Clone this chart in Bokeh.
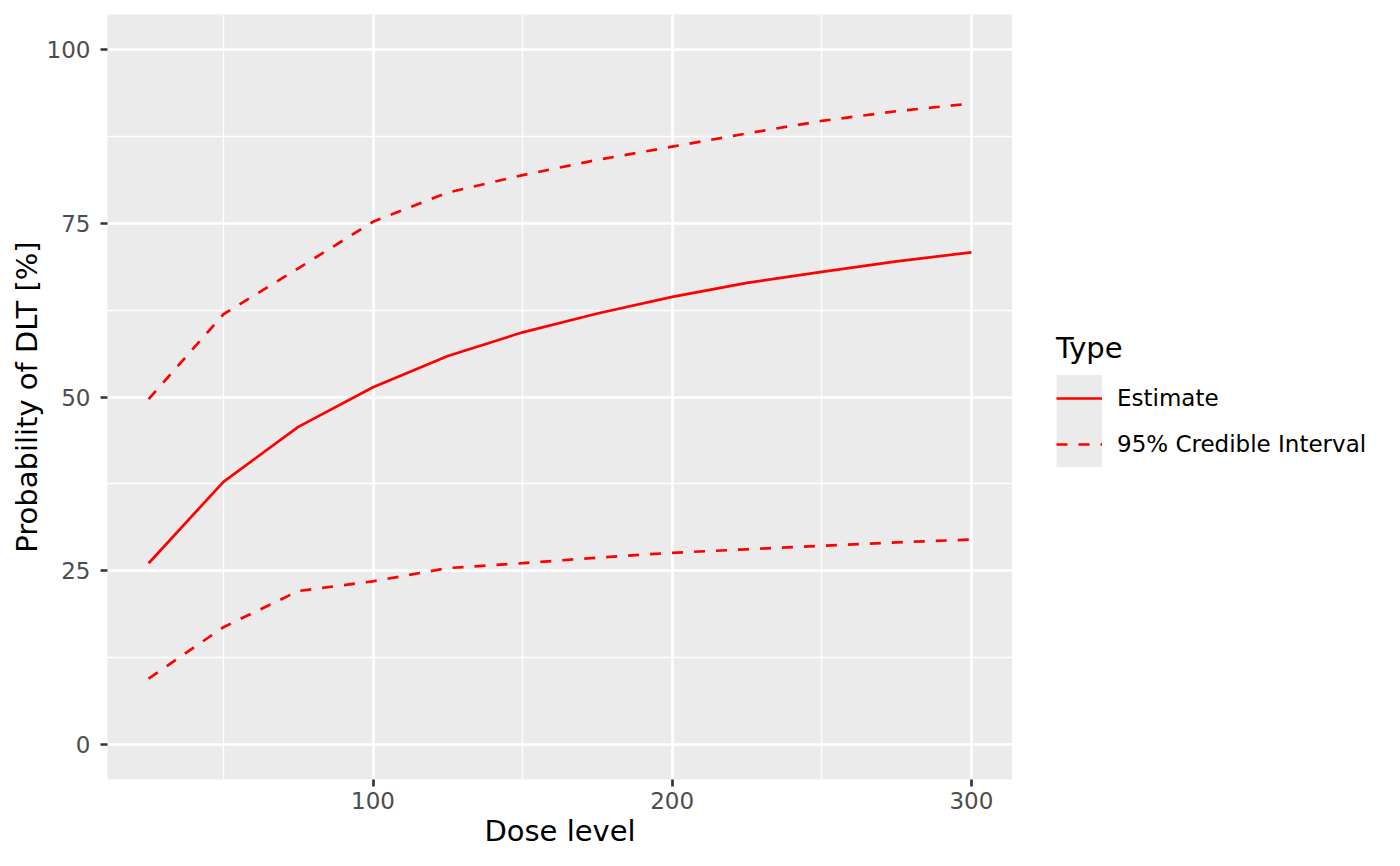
from bokeh.plotting import figure
from bokeh.models import Range1d, FixedTicker, Legend, LegendItem
from bokeh.layouts import row
from bokeh.embed import file_html
from bokeh.resources import INLINE

# ---- data ----
dose = [25, 50, 75, 100, 125, 150, 175, 200, 225, 250, 275, 300]
estimate = [26.1, 37.8, 45.7, 51.4, 55.9, 59.3, 62.0, 64.4, 66.4, 68.0, 69.5, 70.8]
ci_upper = [49.7, 61.9, 68.5, 75.2, 79.4, 81.9, 84.1, 86.0, 87.9, 89.7, 91.1, 92.2]
ci_lower = [9.5, 16.9, 22.1, 23.5, 25.4, 26.1, 26.9, 27.6, 28.1, 28.6, 29.1, 29.5]

x_ticks = [100, 200, 300]
x_minor = [50, 150, 250]
y_ticks = [0, 25, 50, 75, 100]
y_minor = [12.5, 37.5, 62.5, 87.5]

FONT = "DejaVu Sans"
RED = "#FF0000"
PANEL = "#EBEBEB"
TICK_FS = "23px"
TITLE_FS = "29px"
LW = 2.7
DASH = "11 11"

# ---------------- main panel ----------------
p = figure(width=1012, height=850,
           x_range=Range1d(11.25, 313.75), y_range=Range1d(-5, 105),
           output_backend="svg", toolbar_location=None,
           min_border_left=107, min_border_right=0,
           min_border_top=14, min_border_bottom=70,
           background_fill_color=PANEL, border_fill_color="white",
           outline_line_color=None)

p.xaxis.ticker = FixedTicker(ticks=x_ticks, minor_ticks=x_minor)
p.yaxis.ticker = FixedTicker(ticks=y_ticks, minor_ticks=y_minor)
for g in (p.xgrid, p.ygrid):
    g.grid_line_color = "white"
    g.grid_line_width = 2.7
    g.minor_grid_line_color = "white"
    g.minor_grid_line_width = 1.37

for ax in (p.xaxis, p.yaxis):
    ax.axis_line_color = None
    ax.major_tick_line_color = "#333333"
    ax.major_tick_line_width = 2.7
    ax.major_tick_out = 7
    ax.major_tick_in = 0
    ax.minor_tick_line_color = None
    ax.minor_tick_out = 0
    ax.minor_tick_in = 0
    ax.major_label_text_font = FONT
    ax.major_label_text_font_size = TICK_FS
    ax.major_label_text_color = "#4D4D4D"
    ax.axis_label_text_font = FONT
    ax.axis_label_text_font_size = TITLE_FS
    ax.axis_label_text_font_style = "normal"
    ax.axis_label_text_color = "black"

p.xaxis.axis_label = "Dose level"
p.yaxis.axis_label = "Probability of DLT [%]"
p.xaxis.major_label_standoff = 5
p.xaxis.axis_label_standoff = 2
p.yaxis.major_label_standoff = 10
p.yaxis.axis_label_standoff = 0

p.line(dose, estimate, line_color=RED, line_width=LW)
p.line(dose, ci_upper, line_color=RED, line_width=LW, line_dash=DASH)
p.line(dose, ci_lower, line_color=RED, line_width=LW, line_dash=DASH)

# ---------------- legend area ----------------
q = figure(width=372, height=850,
           x_range=Range1d(11.25, 313.75), y_range=Range1d(-5, 105),
           output_backend="svg", toolbar_location=None,
           min_border_left=0, min_border_right=0,
           min_border_top=0, min_border_bottom=0,
           background_fill_color="white", border_fill_color="white",
           outline_line_color=None)
q.axis.visible = False
q.grid.visible = False

# hidden renderers that only provide the legend keys
key_bg = q.line(dose, estimate, line_color=PANEL, line_width=47, visible=False)
key_est = q.line(dose, estimate, line_color=RED, line_width=LW, visible=False)
key_ci = q.line(dose, ci_upper, line_color=RED, line_width=LW, line_dash=DASH, visible=False)

legend = Legend(
    items=[LegendItem(label="Estimate", renderers=[key_bg, key_est]),
           LegendItem(label="95% Credible Interval", renderers=[key_bg, key_ci])],
    location=(44, 312),
    title="Type",
    title_text_font=FONT, title_text_font_size=TITLE_FS, title_text_color="black",
    title_text_font_style="normal", title_standoff=10,
    label_text_font=FONT, label_text_font_size=TICK_FS, label_text_color="black",
    glyph_width=46, glyph_height=46, spacing=0, padding=0, margin=0,
    label_standoff=15,
    border_line_color=None, background_fill_alpha=0,
)
q.add_layout(legend)

layout = row(p, q)
open("out.html", "w").write(file_html(layout, INLINE))
